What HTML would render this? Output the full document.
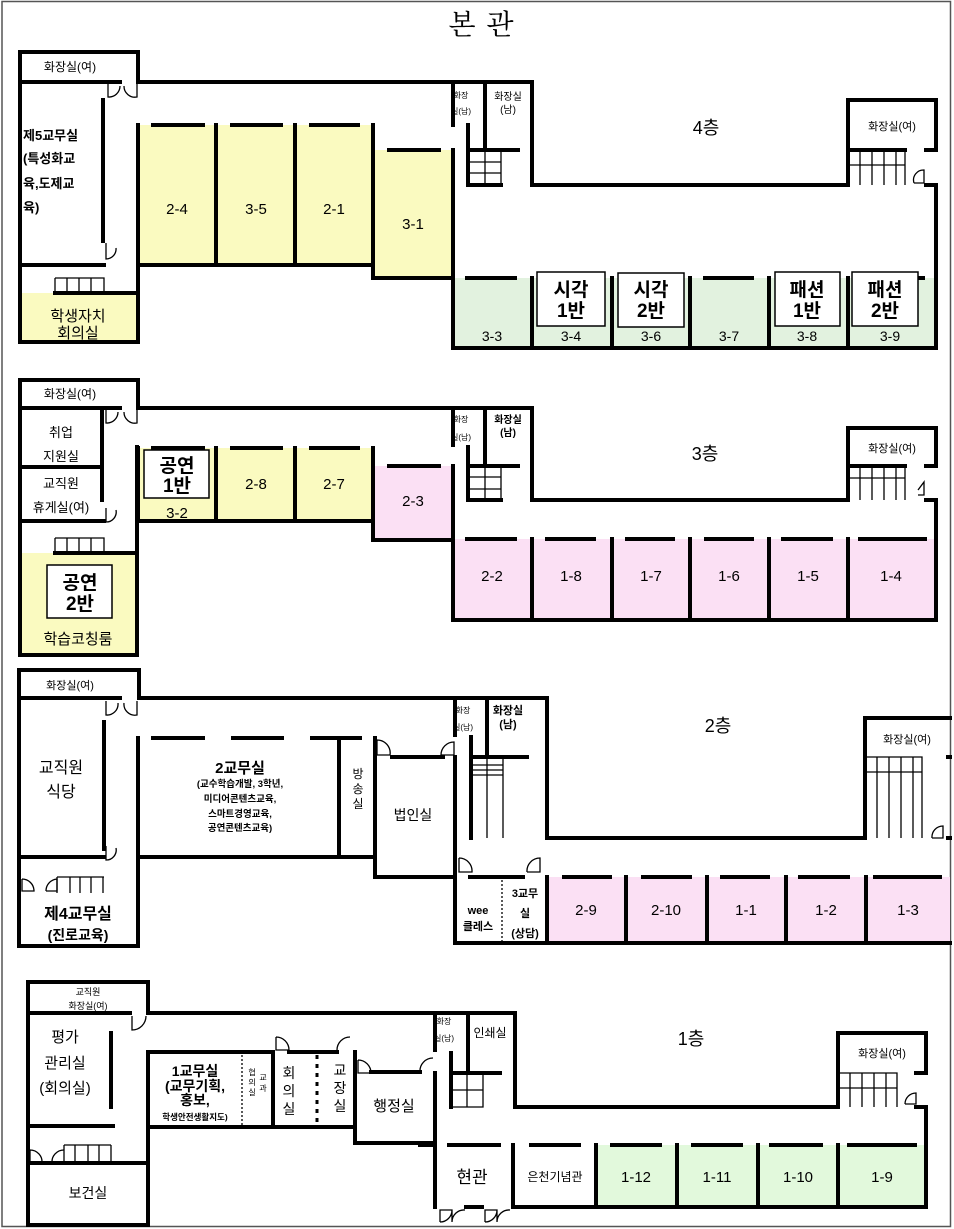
<!DOCTYPE html>
<html><head><meta charset="utf-8"><style>
html,body{margin:0;padding:0;background:#fff}
svg{display:block}
text{font-family:"Liberation Sans","Noto Sans CJK KR",sans-serif;fill:#000}
.w{stroke:#000;stroke-width:4;fill:none;stroke-linecap:square}
.t{stroke:#000;stroke-width:1.3;fill:none}
.d{stroke:#000;stroke-width:1.3;fill:none}
.b{font-weight:bold}
.c{text-anchor:middle}
</style></head><body>
<svg width="954" height="1229" viewBox="0 0 954 1229" xmlns="http://www.w3.org/2000/svg">
<rect x="2" y="1.5" width="948.5" height="1225" fill="none" stroke="#555" stroke-width="1.5"/>
<text x="462" y="34" class="c" style="font-family:'Noto Serif CJK SC','Liberation Serif',serif;font-size:28px">본</text>
<text x="500" y="34" class="c" style="font-family:'Noto Serif CJK SC','Liberation Serif',serif;font-size:28px">관</text>

<!-- ================= FLOOR 4 ================= -->
<rect x="138" y="125" width="235" height="140" fill="#fafac0"/>
<rect x="373" y="150" width="80" height="128" fill="#fafac0"/>
<rect x="20" y="293" width="117" height="49" fill="#fafac0"/>
<rect x="453" y="278" width="483" height="70" fill="#e2f2df"/>
<path class="w" d="M20 342V52H138V82 M20 82H120 M138 82H453V125 M453 82H532V185H848V100H936V150 M936 185V348H453V150
M103 100V241 M20 265H104 M55 293H137 M138 125V342 M20 342H137
M138 265H373 M216 125V265 M295 125V265 M373 125V278H453
M153 125H203 M232 125H281 M311 125H358 M389 150H439
M468 125V185 M485 82V150 M468 150H518 M468 185H501
M848 150H905 M926 150H936 M926 185H936
M532 278V348 M612 278V348 M690 278V348 M769 278V348 M848 278V348
M467 278H515 M705 278H752 M918 278H923"/>
<path class="t" d="M55 278H104V293 M67 278V293 M79 278V293 M91 278V293 M55 278V293
M468 150H501V185 M485 150V185 M468 162H501 M468 173H501
M848 150V185 M860 150V185 M872 150V185 M884 150V185 M896 150V185 M905 150V185 M848 165H905"/>
<path class="d" d="M108 84V97A11 11 0 0 0 120 86 M137 84V97A11 11 0 0 1 124 86 M106 243V259A10 10 0 0 0 116 248 M914 183H924V170A10 10 0 0 0 914 183"/>
<g fill="#fff" stroke="#000" stroke-width="1.5">
<rect x="537" y="272" width="68" height="54"/><rect x="618" y="273" width="66" height="54"/>
<rect x="775" y="272" width="65" height="54"/><rect x="852" y="272" width="66" height="54"/></g>
<text x="70" y="71" class="c" style="font-size:12px">화장실(여)</text>
<g class="b" style="font-size:13px"><text x="23" y="140">제5교무실</text><text x="23" y="163">(특성화교</text><text x="23" y="188">육,도제교</text><text x="23" y="212">육)</text></g>
<g class="c" style="font-size:15px"><text x="177" y="214">2-4</text><text x="256" y="214">3-5</text><text x="334" y="214">2-1</text><text x="413" y="229">3-1</text>
<text x="78" y="321">학생자치</text><text x="78" y="338">회의실</text></g>
<g class="c" style="font-size:8px"><text x="461" y="98">화장</text><text x="461" y="114">실(남)</text></g>
<g class="c" style="font-size:10px"><text x="508" y="100">화장실</text><text x="508" y="113">(남)</text></g>
<text x="706" y="134" class="c" style="font-size:18px">4층</text>
<text x="892" y="130" class="c" style="font-size:11px">화장실(여)</text>
<g class="c b" style="font-size:19px"><text x="571" y="296">시각</text><text x="571" y="317">1반</text><text x="651" y="296">시각</text><text x="651" y="317">2반</text>
<text x="807" y="296">패션</text><text x="807" y="317">1반</text><text x="885" y="296">패션</text><text x="885" y="317">2반</text></g>
<g class="c" style="font-size:14px"><text x="492" y="341">3-3</text><text x="571" y="341">3-4</text><text x="651" y="341">3-6</text><text x="729" y="341">3-7</text><text x="807" y="341">3-8</text><text x="890" y="341">3-9</text></g>

<!-- ================= FLOOR 3 ================= -->
<rect x="138" y="448" width="235" height="73" fill="#fafac0"/>
<rect x="373" y="466" width="80" height="74" fill="#fbe0f4"/>
<rect x="20" y="553" width="117" height="102" fill="#fafac0"/>
<rect x="453" y="539" width="483" height="81" fill="#fbe0f4"/>
<path class="w" d="M20 655V380H138V408 M20 408H120 M138 408H453V445 M453 408H532V500H848V428H936V466 M936 500V620H453V466
M102 410V500 M20 467H102 M20 521H104 M55 553H137 M137 447V655 M20 655H137
M138 448V521 M138 521H373 M216 448V521 M295 448V521 M373 448V540H453
M153 448H203 M232 448H281 M311 448H358 M389 466H439
M468 447V500 M485 408V466 M468 466H518 M468 500H501
M848 466H905 M926 466H936 M926 500H936
M532 539V620 M612 539V620 M690 539V620 M769 539V620 M848 539V620
M467 539H515 M547 539H594 M627 539H673 M706 539H752 M783 539H831 M860 539H925"/>
<path class="t" d="M55 538H104V553 M67 538V553 M79 538V553 M91 538V553 M55 538V553
M468 466H501V500 M485 466V500 M468 477H501 M468 489H501
M848 466V500 M860 466V500 M872 466V500 M884 466V500 M896 466V500 M905 466V500 M848 478H905"/>
<path class="d" d="M106 410V423A11 11 0 0 0 118 412 M137 410V423A11 11 0 0 1 124 412 M106 508V522A10 10 0 0 0 116 510 M918 490L924 482V495H918"/>
<g fill="#fff" stroke="#000" stroke-width="1.5"><rect x="144" y="450" width="65" height="48"/><rect x="47" y="565" width="65" height="53"/></g>
<text x="70" y="398" class="c" style="font-size:12px">화장실(여)</text>
<g class="c" style="font-size:13px"><text x="61" y="437">취업</text><text x="61" y="461">지원실</text><text x="61" y="488">교직원</text><text x="61" y="512">휴게실(여)</text></g>
<g class="c b" style="font-size:19px"><text x="177" y="472">공연</text><text x="177" y="492">1반</text><text x="80" y="589">공연</text><text x="80" y="610">2반</text></g>
<g class="c" style="font-size:15px"><text x="177" y="518">3-2</text><text x="256" y="489">2-8</text><text x="334" y="489">2-7</text><text x="413" y="506">2-3</text>
<text x="78" y="644">학습코칭룸</text></g>
<g class="c" style="font-size:8px"><text x="461" y="422">화장</text><text x="461" y="440">실(남)</text></g>
<g class="c b" style="font-size:10px"><text x="508" y="423">화장실</text><text x="508" y="436">(남)</text></g>
<text x="705" y="460" class="c" style="font-size:18px">3층</text>
<text x="892" y="452" class="c" style="font-size:11px">화장실(여)</text>
<g class="c" style="font-size:15px"><text x="492" y="581">2-2</text><text x="571" y="581">1-8</text><text x="651" y="581">1-7</text><text x="729" y="581">1-6</text><text x="808" y="581">1-5</text><text x="891" y="581">1-4</text></g>

<!-- ================= FLOOR 2 ================= -->
<rect x="547" y="877" width="403" height="66" fill="#fbe0f4"/>
<path class="w" d="M19 946V670H139V698 M19 698H120 M139 698H455V735 M455 757V943 M455 698H547V838H865V718H950 M865 718V838 M455 943H950
M948 757H950 M948 838H950
M104 722V849 M19 857H104 M138 738V946 M19 946H138
M153 738H203 M233 738H282 M312 738H360 M339 738V857 M138 857H375 M375 738V877H455 M392 757H443
M471 737V838 M487 698V757 M471 757H527
M470 877H523 M547 877V943 M626 877V943 M707 877V943 M786 877V943 M866 877V943
M564 877H610 M643 877H690 M722 877H768 M800 877H848 M875 877H940"/>
<path class="t" d="M57 877H104 M57 877V893 M70 877V893 M80 877V893 M91 877V893 M103 877V893
M471 757H503V838 M487 757V838 M471 765H503 M471 770H503 M471 775H503
M865 757H922V838 M877 757V838 M889 757V838 M901 757V838 M913 757V838 M865 772H922"/>
<path stroke="#000" stroke-width="1.3" stroke-dasharray="2,2" d="M502 880V943"/>
<path class="d" d="M106 701V715A11 11 0 0 0 118 703 M137 701V715A11 11 0 0 1 124 703 M106 846V860A10 10 0 0 0 116 848
M22 879V891H34A12 12 0 0 0 22 879 M46 891H57V879A12 12 0 0 0 46 891
M377 740V755H390A13 13 0 0 0 377 740 M441 755H454V742A13 13 0 0 0 441 755
M459 858V872H472A13 13 0 0 0 459 858 M527 872H540V858A13 13 0 0 0 527 872 M932 838H943V826A11 11 0 0 0 932 838"/>
<text x="70" y="689" class="c" style="font-size:11px">화장실(여)</text>
<g class="c" style="font-size:16px"><text x="61" y="773">교직원</text><text x="61" y="797">식당</text></g>
<text x="240" y="773" class="c b" style="font-size:15px">2교무실</text>
<g class="c b" style="font-size:9.5px"><text x="240" y="787">(교수학습개발, 3학년,</text><text x="240" y="802">미디어콘텐츠교육,</text><text x="240" y="817">스마트경영교육,</text><text x="240" y="831">공연콘텐츠교육)</text></g>
<g class="c" style="font-size:12px"><text x="358" y="778">방</text><text x="358" y="793">송</text><text x="358" y="808">실</text></g>
<text x="413" y="820" class="c" style="font-size:14px">법인실</text>
<g class="c" style="font-size:8px"><text x="463" y="713">화장</text><text x="463" y="730">실(남)</text></g>
<g class="c b" style="font-size:11px"><text x="508" y="714">화장실</text><text x="508" y="728">(남)</text></g>
<text x="718" y="732" class="c" style="font-size:18px">2층</text>
<text x="907" y="743" class="c" style="font-size:11px">화장실(여)</text>
<g class="c b" style="font-size:11px"><text x="478" y="914">wee</text><text x="478" y="930">클레스</text><text x="525" y="897">3교무</text><text x="525" y="917">실</text><text x="525" y="937">(상담)</text></g>
<g class="c" style="font-size:15px"><text x="586" y="915">2-9</text><text x="666" y="915">2-10</text><text x="746" y="915">1-1</text><text x="826" y="915">1-2</text><text x="908" y="915">1-3</text></g>
<text x="78" y="919" class="c b" style="font-size:16px">제4교무실</text>
<text x="78" y="940" class="c b" style="font-size:14px">(진로교육)</text>

<!-- ================= FLOOR 1 ================= -->
<rect x="596" y="1145" width="330" height="62" fill="#e2f9dc"/>
<path class="w" d="M28 1225V982H148V1013 M28 1013H130 M148 1013H435V1050 M435 1073V1207 M435 1013H515V1107H838V1033H926V1073 M926 1107V1207H513V1145
M916 1073H926 M916 1107H926
M111 1033V1107 M28 1126H113 M28 1163H148 M148 1052V1225 M28 1225H148
M148 1052H273V1127 M289 1052H337 M148 1127H355 M355 1052V1143H433 M371 1072H420
M468 1013V1073 M451 1053V1107 M451 1073H500
M420 1145H433 M449 1145H499 M531 1145H579 M612 1145H660 M693 1145H741 M771 1145H821 M849 1145H915
M596 1145V1207 M677 1145V1207 M758 1145V1207 M838 1145V1207 M466 1207H482"/>
<path class="t" d="M64 1145H111 M64 1145V1163 M75 1145V1163 M88 1145V1163 M99 1145V1163 M111 1145V1163
M451 1073H483V1107H451 M467 1073V1107 M451 1090H483
M838 1073H897V1107 M850 1073V1107 M862 1073V1107 M874 1073V1107 M886 1073V1107 M838 1088H897"/>
<path stroke="#000" stroke-width="1.3" stroke-dasharray="2,2" d="M242 1055V1125"/>
<path stroke="#000" stroke-width="3" stroke-dasharray="4,5" d="M317 1055V1127"/>
<path class="d" d="M132 1016V1030A14 14 0 0 0 146 1016 M276 1037V1050H289A13 13 0 0 0 276 1037 M337 1050A13 13 0 0 1 350 1037
M358 1060V1073H371A13 13 0 0 0 358 1060 M420 1072A13 13 0 0 1 433 1058
M30 1150V1163H42A12 12 0 0 0 30 1150 M52 1163A12 12 0 0 1 64 1150
M440 1222V1210H452A12 12 0 0 1 440 1222 M452 1210V1222 M465 1210A12 12 0 0 0 452 1222
M485 1222V1210H497A12 12 0 0 1 485 1222 M497 1210V1222 M510 1210A12 12 0 0 0 497 1222
M905 1104H916V1093A11 11 0 0 0 905 1104"/>
<g class="c" style="font-size:9px"><text x="88" y="995">교직원</text><text x="88" y="1009">화장실(여)</text></g>
<g class="c" style="font-size:15px"><text x="65" y="1042">평가</text><text x="65" y="1068">관리실</text><text x="65" y="1093">(회의실)</text></g>
<g class="c b" style="font-size:14px"><text x="195" y="1076">1교무실</text><text x="195" y="1091">(교무기획,</text><text x="195" y="1105">홍보,</text></g>
<text x="195" y="1120" class="c b" style="font-size:8.5px">학생안전생활지도)</text>
<g class="c" style="font-size:8px;fill:#223"><text x="252" y="1075">협</text><text x="252" y="1085">의</text><text x="252" y="1095">실</text><text x="263" y="1080">교</text><text x="263" y="1091">과</text></g>
<g class="c" style="font-size:14px"><text x="289" y="1078">회</text><text x="289" y="1096">의</text><text x="289" y="1114">실</text><text x="340" y="1075">교</text><text x="340" y="1093">장</text><text x="340" y="1111">실</text></g>
<text x="394" y="1111" class="c" style="font-size:15px">행정실</text>
<g class="c" style="font-size:8px"><text x="444" y="1024">화장</text><text x="444" y="1041">실(남)</text></g>
<text x="490" y="1037" class="c" style="font-size:12px">인쇄실</text>
<text x="691" y="1045" class="c" style="font-size:18px">1층</text>
<text x="882" y="1057" class="c" style="font-size:11px">화장실(여)</text>
<text x="472" y="1183" class="c" style="font-size:17px">현관</text>
<text x="555" y="1181" class="c" style="font-size:12px">은천기념관</text>
<g class="c" style="font-size:15px"><text x="636" y="1182">1-12</text><text x="717" y="1182">1-11</text><text x="798" y="1182">1-10</text><text x="882" y="1182">1-9</text></g>
<text x="88" y="1198" class="c" style="font-size:14px">보건실</text>
</svg>
</body></html>
